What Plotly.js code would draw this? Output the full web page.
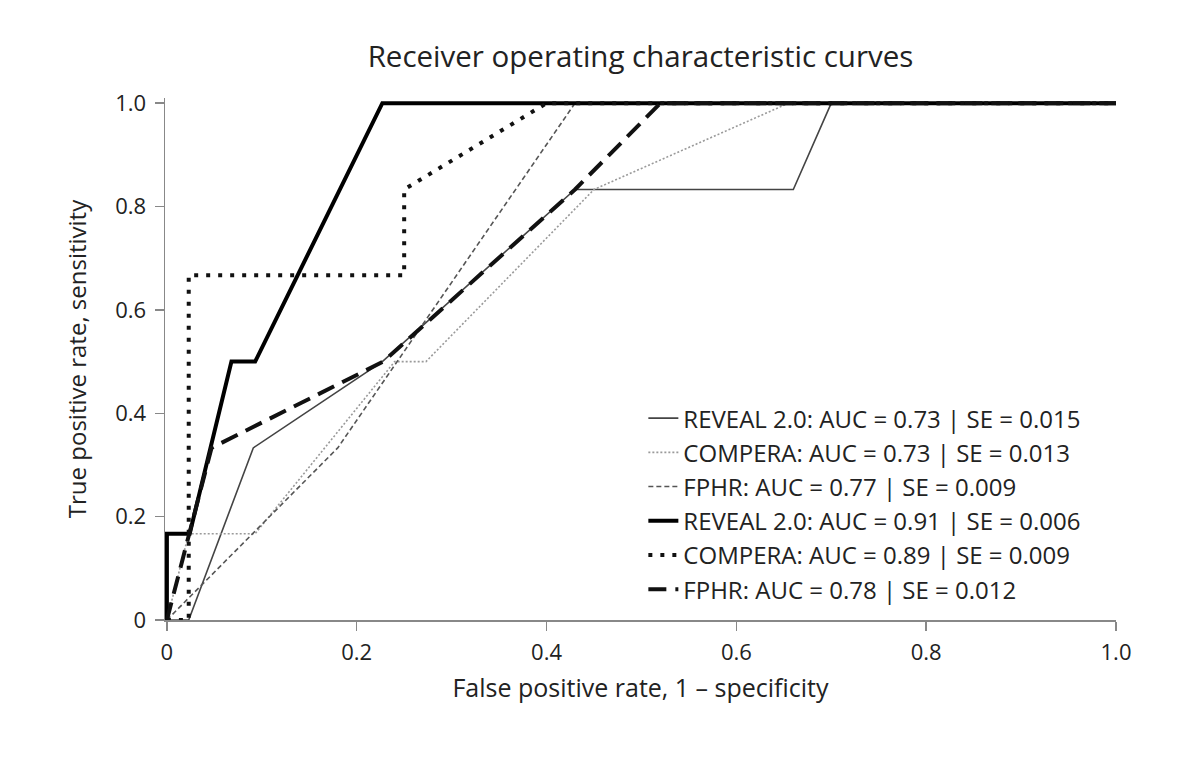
<!DOCTYPE html>
<html>
<head>
<meta charset="utf-8">
<script src="https://cdn.plot.ly/plotly-3.0.1.min.js"></script>
<style>html,body{margin:0;padding:0;background:#fff;}#chart{width:1200px;height:759px;}</style>
</head>
<body>
<div id="chart"></div>
<script>
// Series names (legend labels)
const names = [
  "REVEAL 2.0: AUC = 0.73 | SE = 0.015",
  "COMPERA: AUC = 0.73 | SE = 0.013",
  "FPHR: AUC = 0.77 | SE = 0.009",
  "REVEAL 2.0: AUC = 0.91 | SE = 0.006",
  "COMPERA: AUC = 0.89 | SE = 0.009",
  "FPHR: AUC = 0.78 | SE = 0.012"
];
// ROC points (false positive rate, true positive rate)
const reveal1X = [0, 0.023, 0.091, 0.227, 0.43, 0.66, 0.70, 1.0];
const reveal1Y = [0, 0, 0.333, 0.5, 0.833, 0.833, 1.0, 1.0];
const compera1X = [0, 0.023, 0.093, 0.24, 0.273, 0.45, 0.655, 1.0];
const compera1Y = [0, 0.167, 0.167, 0.5, 0.5, 0.833, 1.0, 1.0];
const fphr1X = [0, 0.18, 0.43, 1.0];
const fphr1Y = [0, 0.333, 1.0, 1.0];
const reveal2X = [0, 0, 0.024, 0.068, 0.093, 0.227, 1.0];
const reveal2Y = [0, 0.167, 0.167, 0.5, 0.5, 1.0, 1.0];
const compera2X = [0, 0.023, 0.023, 0.25, 0.25, 0.40, 1.0];
const compera2Y = [0, 0, 0.667, 0.667, 0.833, 1.0, 1.0];
const fphr2X = [0, 0.047, 0.228, 0.43, 0.52, 1.0];
const fphr2Y = [0, 0.333, 0.5, 0.833, 1.0, 1.0];
// Tick labels
const tickVals = [0, 0.2, 0.4, 0.6, 0.8, 1.0];
const tickText = ["0", "0.2", "0.4", "0.6", "0.8", "1.0"];

const xs = [reveal1X, compera1X, fphr1X, reveal2X, compera2X, fphr2X];
const ys = [reveal1Y, compera1Y, fphr1Y, reveal2Y, compera2Y, fphr2Y];
const styles = [
  {color: "#444444", width: 1.6, dash: "solid"},
  {color: "#9a9a9a", width: 1.6, dash: "2px,2px"},
  {color: "#555555", width: 1.6, dash: "5px,3px"},
  {color: "#000000", width: 4, dash: "solid"},
  {color: "#111111", width: 4, dash: "4px,8px"},
  {color: "#111111", width: 4, dash: "18px,9px"}
];

const traces = names.map((n, i) => ({
  type: "scatter", mode: "lines", name: n,
  x: xs[i], y: ys[i],
  line: styles[i]
}));
const font = "'Open Sans', 'Noto Sans', sans-serif";
const layout = {
  width: 1200, height: 759,
  paper_bgcolor: "#fff", plot_bgcolor: "#fff",
  margin: {l: 165, r: 84, t: 98, b: 139},
  font: {family: font, color: "#222", size: 22},
  title: {text: "Receiver operating characteristic curves", font: {family: font, size: 29.5, color: "#222"},
          x: 0.5, xref: "paper", y: 0.925, yref: "container", yanchor: "middle"},
  xaxis: {range: [-0.002, 1.0], tickvals: tickVals, ticktext: tickText,
          showgrid: false, zeroline: false, showline: true, linecolor: "#888", linewidth: 1.5,
          ticks: "outside", ticklen: 9, tickcolor: "#888", tickwidth: 1.5,
          ticklabelstandoff: 3,
          tickfont: {size: 22, color: "#222"},
          title: {text: "False positive rate, 1 – specificity", font: {size: 25, color: "#222"}, standoff: 14}},
  yaxis: {range: [0, 1.01], tickvals: tickVals, ticktext: tickText,
          showgrid: false, zeroline: false, showline: true, linecolor: "#888", linewidth: 1.5,
          ticks: "outside", ticklen: 9, tickcolor: "#888", tickwidth: 1.5,
          ticklabelstandoff: 4,
          tickfont: {size: 22, color: "#222"},
          title: {text: "True positive rate, sensitivity", font: {size: 24, color: "#222"}, standoff: 22}},
  showlegend: true,
  legend: {x: 0.503, y: 0.429, xanchor: "left", yanchor: "top", bgcolor: "rgba(0,0,0,0)",
           font: {size: 24, color: "#222"}}
};
Plotly.newPlot("chart", traces, layout, {displayModeBar: false, staticPlot: true});
</script>
</body>
</html>
